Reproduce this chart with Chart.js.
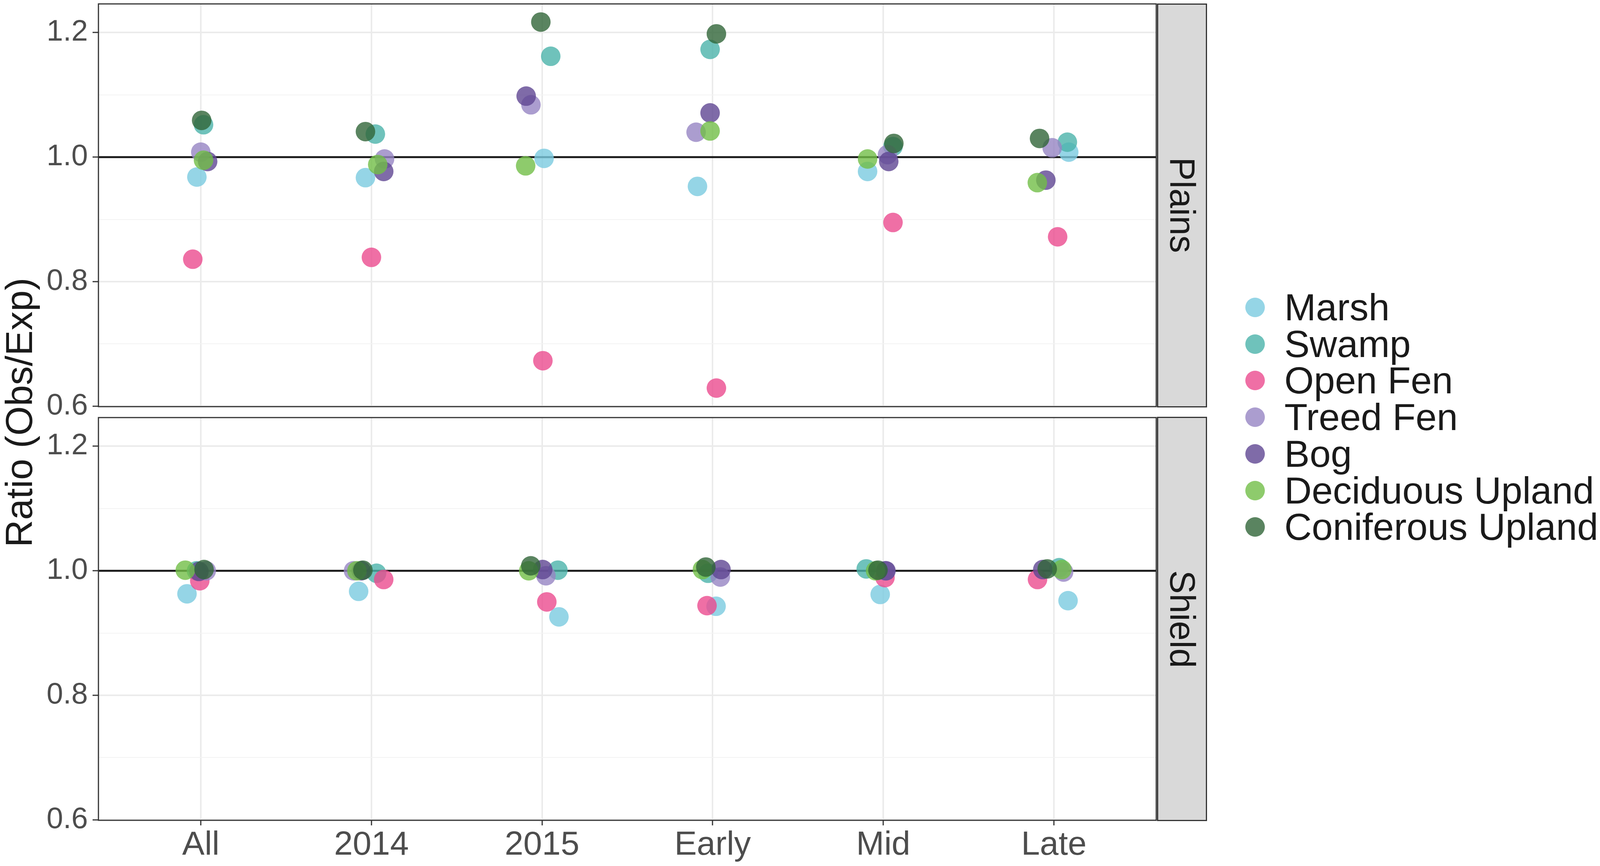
<!DOCTYPE html>
<html>
<head>
<meta charset="utf-8">
<script src="https://cdn.jsdelivr.net/npm/chart.js@4.4.1/dist/chart.umd.min.js"></script>
<style>
  body { margin: 0; background: #fff; width: 4097px; height: 2217px; position: relative; overflow: hidden;
         font-family: 'Liberation Sans', Arial, sans-serif; }
  canvas { position: absolute; left: 0; }
  .strip { position: absolute; left: 2962px; width: 128px; background: #d9d9d9; border: 3px solid #333; box-sizing: border-box; }
  .rot { position: absolute; width: 0; height: 0; }
  .rot span { position: absolute; left: 0; top: 0; white-space: nowrap; transform: translate(-50%, -50%) rotate(90deg); color: #1a1a1a; }
  .legend-row { position: absolute; left: 3188px; height: 94px; display: flex; align-items: center; }
  .legend-row i { display: inline-block; width: 50px; height: 50px; border-radius: 50%; margin-right: 50px; }
  .legend-row span { font-size: 97px; line-height: 94px; color: #1a1a1a; white-space: nowrap; }
</style>
</head>
<body>
<canvas id="plainsChart" width="2966" height="1100" style="top:0"></canvas>
<canvas id="shieldChart" width="2966" height="1157" style="top:1060px"></canvas>
<div class="strip" style="top:9px;height:1034px"></div>
<div class="strip" style="top:1067px;height:1035px"></div>
<div class="rot" style="left:3026px;top:525px"><span style="font-size:90px">Plains</span></div>
<div class="rot" style="left:3026px;top:1585px"><span style="font-size:90px">Shield</span></div>
<div class="rot" style="left:49px;top:1056px"><span style="font-size:97px;transform:translate(-50%,-50%) rotate(-90deg)">Ratio (Obs/Exp)</span></div>
<div id="legend"></div>
<script>
// x categories and habitat series
const categories = ['All', '2014', '2015', 'Early', 'Mid', 'Late'];
const habitats = ['Marsh', 'Swamp', 'Open Fen', 'Treed Fen', 'Bog', 'Deciduous Upland', 'Coniferous Upland'];
const habitatColors = [
  'rgba(122, 202, 224, 0.8)',
  'rgba(75, 179, 170, 0.8)',
  'rgba(235, 75, 143, 0.8)',
  'rgba(150, 133, 195, 0.8)',
  'rgba(95, 70, 146, 0.8)',
  'rgba(114, 190, 71, 0.8)',
  'rgba(49, 101, 56, 0.8)'
];
const yTickLabels = ['0.6', '0.8', '1.0', '1.2'];
const yGridValues = [0.6, 0.7, 0.8, 0.9, 1.0, 1.1, 1.2];
const refLine = 1.0;

// Plains ratios (one value per category)
const plainsMarsh = [0.968, 0.967, 0.998, 0.953, 0.977, 1.008];
const plainsSwamp = [1.052, 1.037, 1.162, 1.173, 1.017, 1.024];
const plainsOpenFen = [0.836, 0.839, 0.673, 0.629, 0.895, 0.872];
const plainsTreedFen = [1.008, 0.997, 1.084, 1.040, 1.004, 1.015];
const plainsBog = [0.993, 0.977, 1.098, 1.071, 0.993, 0.963];
const plainsDeciduous = [0.995, 0.988, 0.986, 1.042, 0.997, 0.959];
const plainsConiferous = [1.059, 1.041, 1.217, 1.198, 1.022, 1.030];

// Plains horizontal jitter (category units)
const plainsMarshDx = [-0.023, -0.035, 0.012, -0.089, -0.092, 0.087];
const plainsSwampDx = [0.016, 0.023, 0.051, -0.015, 0.057, 0.079];
const plainsOpenFenDx = [-0.047, 0, 0.005, 0.022, 0.057, 0.022];
const plainsTreedFenDx = [0, 0.077, -0.065, -0.097, 0.025, -0.010];
const plainsBogDx = [0.040, 0.072, -0.093, -0.015, 0.032, -0.047];
const plainsDeciduousDx = [0.016, 0.037, -0.096, -0.015, -0.092, -0.097];
const plainsConiferousDx = [0.005, -0.035, -0.007, 0.022, 0.062, -0.084];

// Shield ratios
const shieldMarsh = [0.963, 0.967, 0.926, 0.943, 0.962, 0.952];
const shieldSwamp = [1.000, 0.996, 1.001, 0.996, 1.003, 1.005];
const shieldOpenFen = [0.984, 0.986, 0.950, 0.944, 0.989, 0.986];
const shieldTreedFen = [1.000, 1.000, 0.992, 0.990, 1.000, 0.998];
const shieldBog = [0.999, 1.000, 1.002, 1.002, 1.000, 1.002];
const shieldDeciduous = [1.001, 1.000, 1.000, 1.002, 1.000, 1.002];
const shieldConiferous = [1.002, 1.001, 1.008, 1.006, 1.001, 1.003];

// Shield horizontal jitter
const shieldMarshDx = [-0.081, -0.075, 0.099, 0.020, -0.018, 0.083];
const shieldSwampDx = [-0.025, 0.030, 0.093, -0.027, -0.100, 0.031];
const shieldOpenFenDx = [-0.006, 0.072, 0.028, -0.033, 0.010, -0.096];
const shieldTreedFenDx = [0.032, -0.105, 0.023, 0.045, 0.012, 0.057];
const shieldBogDx = [-0.011, -0.060, 0.004, 0.049, 0.016, -0.065];
const shieldDeciduousDx = [-0.091, -0.085, -0.078, -0.060, -0.045, 0.047];
const shieldConiferousDx = [0.019, -0.050, -0.066, -0.040, -0.031, -0.039];

const FONT = "'Liberation Sans', Arial, sans-serif";

function isMajor(v) {
  return yTickLabels.includes(Number(v).toFixed(1));
}

// panel border + reference line at 1.0
const panelDecor = {
  id: 'panelDecor',
  beforeDatasetsDraw(chart) {
    const { ctx, chartArea } = chart;
    const y = chart.scales.y.getPixelForValue(refLine);
    ctx.save();
    ctx.strokeStyle = '#1a1a1a';
    ctx.lineWidth = 5;
    ctx.beginPath();
    ctx.moveTo(chartArea.left, y);
    ctx.lineTo(chartArea.right, y);
    ctx.stroke();
    ctx.restore();
  },
  afterDraw(chart) {
    const { ctx, chartArea } = chart;
    ctx.save();
    ctx.strokeStyle = '#333333';
    ctx.lineWidth = 3;
    ctx.strokeRect(chartArea.left, chartArea.top, chartArea.right - chartArea.left, chartArea.bottom - chartArea.top);
    ctx.restore();
  }
};

function makePanel(canvasId, values, jitter, showX, padding, xHeight) {
  const datasets = habitats.map((name, i) => ({
    label: name,
    data: values[i].map((v, j) => ({ x: j + 1 + jitter[i][j], y: v })),
    backgroundColor: habitatColors[i],
    borderWidth: 0,
    pointRadius: 25,
    pointHoverRadius: 25,
    order: habitats.length - i
  }));

  new Chart(document.getElementById(canvasId), {
    type: 'scatter',
    data: { datasets },
    options: {
      responsive: false,
      animation: false,
      devicePixelRatio: 1,
      events: [],
      layout: { padding, autoPadding: false },
      plugins: { legend: { display: false }, tooltip: { enabled: false } },
      scales: {
        x: {
          type: 'linear',
          min: 0.4,
          max: 6.6,
          afterBuildTicks: s => { s.ticks = categories.map((c, i) => ({ value: i + 1 })); },
          afterFit: s => { s.height = xHeight; s.paddingLeft = 0; s.paddingRight = 0; },
          border: { display: false },
          grid: {
            color: '#ebebeb',
            lineWidth: 4,
            drawTicks: showX,
            tickLength: 13,
            tickWidth: 3,
            tickColor: '#333333'
          },
          ticks: {
            display: showX,
            autoSkip: false,
            maxRotation: 0,
            padding: 0,
            color: '#4d4d4d',
            font: { family: FONT, size: 86 },
            callback: v => categories[Math.round(v) - 1]
          }
        },
        y: {
          type: 'linear',
          min: 0.5992,
          max: 1.2461,
          afterBuildTicks: s => { s.ticks = yGridValues.map(v => ({ value: v })); },
          afterFit: s => { s.width = 252; s.paddingTop = 0; s.paddingBottom = 0; },
          border: { display: false },
          grid: {
            color: c => (c.tick && isMajor(c.tick.value)) ? '#ebebeb' : '#f3f3f3',
            lineWidth: c => (c.tick && isMajor(c.tick.value)) ? 4 : 2,
            tickLength: 15,
            tickWidth: 3,
            tickColor: c => (c.tick && isMajor(c.tick.value)) ? '#333333' : 'rgba(0,0,0,0)'
          },
          ticks: {
            autoSkip: false,
            padding: 12,
            color: '#4d4d4d',
            font: { family: FONT, size: 76 },
            callback: v => isMajor(v) ? Number(v).toFixed(1) : ''
          }
        }
      }
    },
    plugins: [panelDecor]
  });
}

makePanel('plainsChart',
  [plainsMarsh, plainsSwamp, plainsOpenFen, plainsTreedFen, plainsBog, plainsDeciduous, plainsConiferous],
  [plainsMarshDx, plainsSwampDx, plainsOpenFenDx, plainsTreedFenDx, plainsBogDx, plainsDeciduousDx, plainsConiferousDx],
  false, { top: 10, right: 6, bottom: 59, left: 0 }, 0);

makePanel('shieldChart',
  [shieldMarsh, shieldSwamp, shieldOpenFen, shieldTreedFen, shieldBog, shieldDeciduous, shieldConiferous],
  [shieldMarshDx, shieldSwampDx, shieldOpenFenDx, shieldTreedFenDx, shieldBogDx, shieldDeciduousDx, shieldConiferousDx],
  true, { top: 9, right: 6, bottom: 0, left: 0 }, 117);

// legend
const legend = document.getElementById('legend');
habitats.forEach((name, i) => {
  const row = document.createElement('div');
  row.className = 'legend-row';
  row.style.top = (740 + i * 93.7) + 'px';
  row.innerHTML = '<i style="background:' + habitatColors[i] + '"></i><span>' + name + '</span>';
  legend.appendChild(row);
});
</script>
</body>
</html>
